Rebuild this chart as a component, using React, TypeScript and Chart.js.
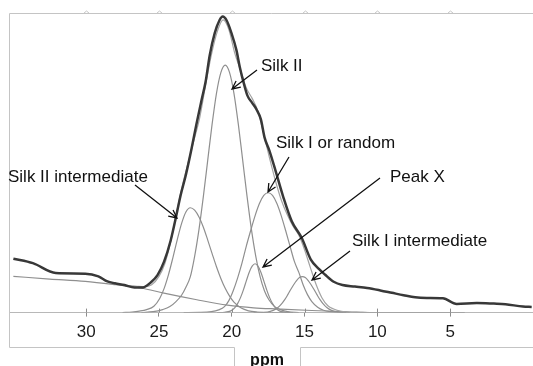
import React, { useEffect, useRef } from 'react';
import { Chart, registerables } from 'chart.js';

Chart.register(...registerables);

type Pt = [number, number];

// x = chemical shift (ppm), y = intensity (arbitrary units, 0-100)
const observed: Pt[] = [
  [35.0, 18.0], [33.66, 16.5], [32.09, 13.2], [30.06, 13.0], [29.16, 12.1], [28.54, 10.4],
  [28.03, 9.8], [27.37, 9.2], [26.68, 8.4], [26.1, 8.4], [25.58, 10.0], [25.1, 12.5],
  [24.65, 17], [24.2, 24], [23.87, 31], [23.52, 39], [23.15, 46], [22.77, 54.5],
  [22.42, 63], [22.08, 70.8], [21.8, 77], [21.51, 86], [21.17, 93.3], [20.85, 97.5],
  [20.62, 98.8], [20.35, 97.5], [20.02, 93.3], [19.68, 87.6], [19.45, 82], [19.2, 77],
  [18.93, 72.5], [18.6, 70], [18.3, 67.8], [18.0, 64.5], [17.75, 58.5], [17.41, 54],
  [16.99, 47.3], [16.45, 38.4], [15.88, 30.5], [15.19, 24.9], [14.58, 17.8], [14.0, 14.5],
  [13.6, 12.7], [13.0, 10.3], [12.4, 9.2], [11.54, 8.7], [10.7, 8.2], [9.8, 7.4],
  [9.0, 6.6], [8.2, 5.8], [7.4, 5.1], [6.6, 4.9], [5.5, 4.8], [4.55, 2.9],
  [3.17, 3.2], [2.0, 3.0], [1.2, 2.8], [0, 2.0], [-0.6, 1.9],
];

const fitTotal: Pt[] = [
  [27.5, 9.1], [26.5, 8.8], [26.0, 8.7], [25.5, 9.3], [25.0, 12.1], [24.6, 16.3],
  [24.2, 23.6], [23.8, 33.1], [23.4, 42.2], [23.0, 50], [22.6, 57.5], [22.2, 65.1],
  [21.8, 75.8], [21.4, 86], [21.0, 93.7], [20.6, 97.7], [20.2, 94.5], [19.8, 86.7],
  [19.4, 80.9], [19.0, 75], [18.6, 71.5], [18.2, 67.2], [17.8, 59.5], [17.4, 51.5],
  [17.0, 44], [16.6, 37.6], [16.2, 32.8], [15.8, 28.9], [15.4, 25.9], [15.0, 21],
  [14.6, 15], [14.2, 9.3], [13.8, 4.9], [13.4, 2.3], [13.0, 1.2], [12.5, 0.45],
  [12.0, 0.2], [11.0, 0.05], [10.5, 0],
];

const silkIIIntermediate: Pt[] = [
  [27.5, 0], [26.85, 0.2], [26.35, 0.5], [25.85, 1.0], [25.35, 2.1], [24.95, 4.7],
  [24.65, 8.0], [24.35, 12.6], [24.05, 18.2], [23.75, 24.2], [23.45, 29.7], [23.15, 33.6],
  [22.85, 35.0], [22.55, 34.2], [22.25, 31.9], [21.95, 28.5], [21.65, 24.2], [21.35, 19.7],
  [21.05, 15.3], [20.75, 11.4], [20.45, 8.1], [20.15, 5.5], [19.85, 3.5], [19.35, 1.5],
  [18.85, 0.6], [18.25, 0.2], [17.35, 0], [16.0, 0],
];

const silkII: Pt[] = [
  [26.2, 0], [25.4, 0.3], [24.75, 1.0], [24.25, 2.0], [23.85, 3.6], [23.45, 5.8],
  [23.15, 8.5], [22.85, 11.9], [22.55, 18.8], [22.25, 27.8], [21.95, 38.8], [21.65, 50.9],
  [21.35, 62.9], [21.05, 73.2], [20.75, 80.1], [20.45, 82.6], [20.15, 80.1], [19.85, 73.2],
  [19.55, 62.9], [19.25, 50.9], [18.95, 38.8], [18.65, 27.8], [18.35, 18.8], [18.05, 11.9],
  [17.75, 7.2], [17.45, 4.3], [17.05, 2.0], [16.65, 1.0], [16.15, 0.3], [15.4, 0],
];

const silkIRandom: Pt[] = [
  [23.3, 0], [22.2, 0.05], [21.4, 0.3], [20.9, 0.9], [20.5, 2.0], [20.2, 4.0],
  [19.9, 7.3], [19.6, 11.5], [19.3, 16.5], [19.0, 22.2], [18.7, 27.4], [18.4, 32.3],
  [18.1, 36.4], [17.8, 39.1], [17.5, 40.0], [17.2, 39.1], [16.9, 36.4], [16.6, 32.3],
  [16.3, 27.4], [16.0, 22.2], [15.7, 17.1], [15.4, 13.5], [15.1, 9.3], [14.8, 6.0],
  [14.5, 3.7], [14.1, 1.8], [13.7, 0.8], [13.2, 0.3], [12.5, 0.05], [11.9, 0],
];

const peakX: Pt[] = [
  [21.0, 0], [20.5, 0.1], [20.1, 0.5], [19.8, 1.6], [19.6, 3.0], [19.4, 5.0],
  [19.2, 7.6], [19.0, 10.6], [18.8, 13.5], [18.6, 15.5], [18.4, 16.3], [18.2, 15.5],
  [18.0, 13.5], [17.8, 10.6], [17.6, 7.6], [17.4, 5.0], [17.2, 3.0], [17.0, 1.6],
  [16.7, 0.5], [16.3, 0.1], [15.8, 0],
];

const silkIIntermediate: Pt[] = [
  [18.5, 0], [17.55, 0.2], [17.15, 0.75], [16.85, 1.6], [16.55, 3.1], [16.35, 4.4],
  [16.15, 6.0], [15.95, 7.7], [15.75, 9.3], [15.55, 10.7], [15.35, 11.7], [15.15, 12.0],
  [14.95, 11.7], [14.75, 10.7], [14.55, 9.3], [14.35, 7.7], [14.15, 6.0], [13.95, 4.4],
  [13.75, 3.1], [13.45, 1.6], [13.15, 0.75], [12.75, 0.2], [12.15, 0],
];

const baseline: Pt[] = [
  [35.0, 12.1], [32.5, 11.2], [30.06, 10.4], [28.0, 9.3], [26.23, 8.2], [24.66, 6.5],
  [22.4, 4.3], [20.3, 2.5], [18.5, 1.6], [16.8, 1.2], [14.5, 0.7], [12.8, 0.4],
  [11.8, 0.2], [10.5, 0], [4.0, 0],
];

const tickValues = [30, 25, 20, 15, 10, 5];
const axisTitle = 'ppm';

const noteTexts = ['Silk II', 'Silk I or random', 'Silk II intermediate', 'Peak X', 'Silk I intermediate'];
// layout of the labels: text anchor (left, middle) and arrow start -> tip, in pixels
const noteLayout = [
  { tx: 261, ty: 66, ax: 257, ay: 70, bx: 232, by: 89 },
  { tx: 276, ty: 143, ax: 289, ay: 157, bx: 268, by: 192 },
  { tx: 8, ty: 177, ax: 135, ay: 185, bx: 177, by: 218 },
  { tx: 390, ty: 177, ax: 380, ay: 178, bx: 263, by: 267 },
  { tx: 352, ty: 241, ax: 350, ay: 251, bx: 312, by: 280 },
];

const FONT = '"Liberation Sans", Arial, Helvetica, sans-serif';

const toXY = (pts: Pt[]) => pts.map(([x, y]) => ({ x, y }));

const framePlugin = {
  id: 'frame',
  afterDraw(chart: any) {
    const ctx = chart.ctx as CanvasRenderingContext2D;
    const xs = chart.scales.x;
    const area = chart.chartArea;
    ctx.save();
    ctx.strokeStyle = '#c4c4c4';
    ctx.lineWidth = 1;
    ctx.beginPath();
    ctx.moveTo(533, 13.5);
    ctx.lineTo(9.5, 13.5);
    ctx.lineTo(9.5, 347.5);
    ctx.lineTo(234.5, 347.5);
    ctx.lineTo(234.5, 366);
    ctx.moveTo(300.5, 366);
    ctx.lineTo(300.5, 347.5);
    ctx.lineTo(533, 347.5);
    ctx.stroke();
    tickValues.forEach((v) => {
      const px = Math.round(xs.getPixelForValue(v)) + 0.5;
      ctx.strokeStyle = '#c4c4c4';
      ctx.beginPath();
      ctx.moveTo(px - 3, 13.5);
      ctx.lineTo(px, 11);
      ctx.lineTo(px + 3, 13.5);
      ctx.stroke();
      ctx.strokeStyle = '#8c8c8c';
      ctx.beginPath();
      ctx.moveTo(px, area.bottom - 4);
      ctx.lineTo(px, area.bottom);
      ctx.stroke();
    });
    ctx.fillStyle = '#111';
    ctx.font = `bold 16px ${FONT}`;
    ctx.textAlign = 'center';
    ctx.textBaseline = 'alphabetic';
    ctx.fillText(axisTitle, 267, 365);
    ctx.font = `17px ${FONT}`;
    ctx.textAlign = 'left';
    ctx.textBaseline = 'middle';
    ctx.strokeStyle = '#111';
    ctx.lineWidth = 1.3;
    noteTexts.forEach((t, i) => {
      const l = noteLayout[i];
      ctx.fillText(t, l.tx, l.ty);
      ctx.beginPath();
      ctx.moveTo(l.ax, l.ay);
      ctx.lineTo(l.bx, l.by);
      const ang = Math.atan2(l.by - l.ay, l.bx - l.ax);
      const len = 9;
      const spread = 0.45;
      ctx.moveTo(l.bx - len * Math.cos(ang - spread), l.by - len * Math.sin(ang - spread));
      ctx.lineTo(l.bx, l.by);
      ctx.lineTo(l.bx - len * Math.cos(ang + spread), l.by - len * Math.sin(ang + spread));
      ctx.stroke();
    });
    ctx.restore();
  },
};

export default function App() {
  const ref = useRef<HTMLCanvasElement | null>(null);
  useEffect(() => {
    if (!ref.current) return;
    const gray = '#8f8f8f';
    const comp = (label: string, pts: Pt[], color = gray, width = 1.2) => ({
      label,
      data: toXY(pts),
      borderColor: color,
      borderWidth: width,
      pointRadius: 0,
      fill: false,
      cubicInterpolationMode: 'monotone' as const,
    });
    const chart = new Chart(ref.current, {
      type: 'line',
      data: {
        datasets: [
          comp('Observed', observed, '#383838', 2.5),
          comp('Fit', fitTotal, '#a3a3a3', 1.2),
          comp('Silk II intermediate', silkIIIntermediate),
          comp('Silk II', silkII),
          comp('Silk I or random', silkIRandom),
          comp('Peak X', peakX),
          comp('Silk I intermediate', silkIIntermediate),
          comp('Baseline', baseline),
        ],
      },
      options: {
        animation: false,
        responsive: false,
        devicePixelRatio: 1,
        layout: { padding: { top: 13, left: 9, right: 0, bottom: 17 } },
        plugins: { legend: { display: false }, tooltip: { enabled: false } },
        scales: {
          x: {
            type: 'linear',
            reverse: true,
            min: -0.69,
            max: 35.3,
            afterBuildTicks: (axis: any) => {
              axis.ticks = tickValues.map((v) => ({ value: v }));
            },
            grid: { drawOnChartArea: false, drawTicks: true, tickLength: 4, color: '#8c8c8c' },
            border: { display: true, color: '#b8b8b8', width: 1 },
            ticks: {
              padding: 6,
              color: '#1a1a1a',
              autoSkip: false,
              maxRotation: 0,
              font: { family: FONT, size: 17 },
            },
          },
          y: { display: false, min: 0, max: 100 },
        },
      },
      plugins: [framePlugin],
    });
    return () => chart.destroy();
  }, []);
  return (
    <div style={{ position: 'absolute', left: 0, top: 0, width: 533, height: 366, background: '#fff' }}>
      <canvas ref={ref} width={533} height={366} style={{ display: 'block', width: 533, height: 366 }} />
    </div>
  );
}
